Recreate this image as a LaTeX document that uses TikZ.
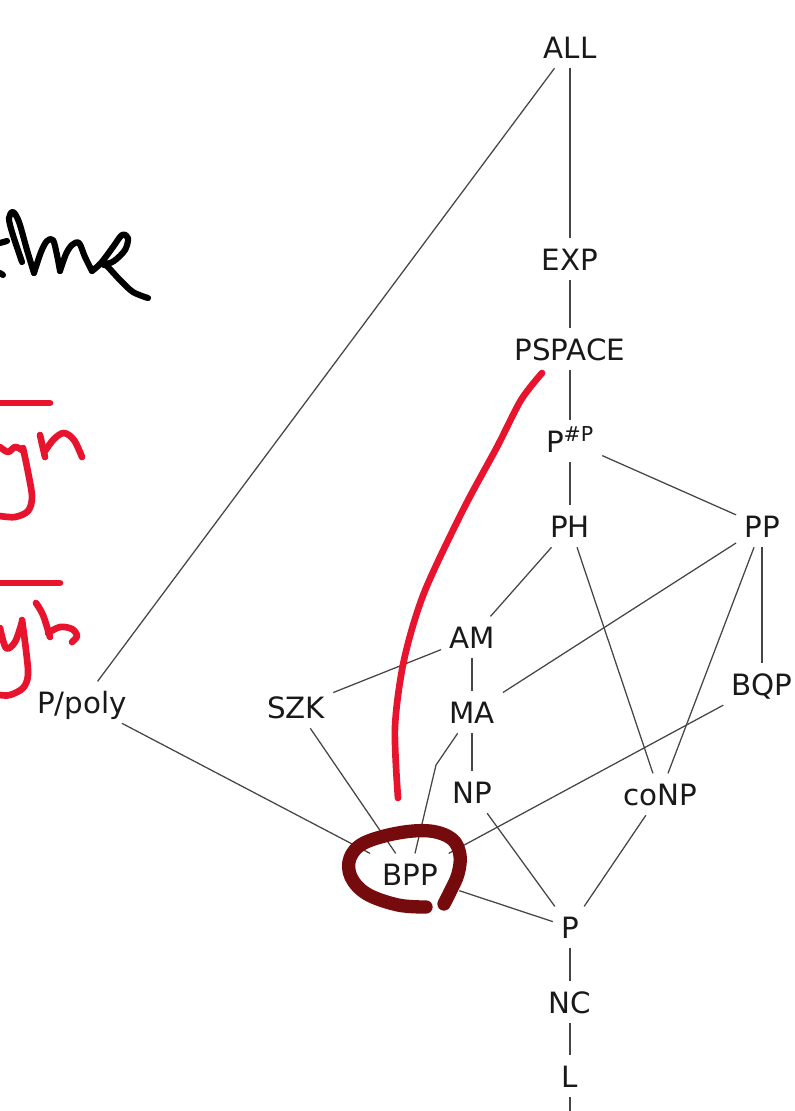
\documentclass[tikz,border=0pt]{standalone}
\usepackage{fontspec}
\setmainfont{DejaVu Sans}
\definecolor{edgegray}{RGB}{70,70,70}
\definecolor{labelink}{RGB}{25,25,25}
\definecolor{penred}{RGB}{232,20,45}
\definecolor{ringred}{RGB}{118,11,13}
\tikzset{
  cls/.style={font=\fontsize{22}{26}\selectfont, text=labelink, text height=16pt, text depth=0pt,
              inner xsep=6pt, inner ysep=7.5pt, anchor=base},
  link/.style={draw=edgegray, line width=0.95pt},
  blackpen/.style={draw=black, line width=4.6pt, line cap=round, line join=round},
  redpen/.style={draw=penred, line width=5pt, line cap=round, line join=round},
  ringpen/.style={draw=ringred, line width=10pt, line cap=round, line join=round}
}
\begin{document}
\begin{tikzpicture}[x=0.75pt, y=-0.75pt]
\useasboundingbox (0,0) rectangle (795,1111);

% class nodes
\node[cls] (ALL) at (570,58) {ALL};
\node[cls] (EXP) at (570,270) {EXP};
\node[cls] (PSPACE) at (570,360) {PSPACE};
\node[cls] (PsP) at (570,452) {P\textsuperscript{\#P}};
\node[cls] (PH) at (570,537) {PH};
\node[cls] (PP) at (762,537) {PP};
\node[cls] (AM) at (472,648) {AM};
\node[cls] (MA) at (472,723) {MA};
\node[cls] (NP) at (472,803) {NP};
\node[cls] (SZK) at (296,718) {SZK};
\node[cls] (Ppoly) at (82,713) {P/poly};
\node[cls] (BQP) at (762,695) {BQP};
\node[cls] (coNP) at (660,805) {coNP};
\node[cls, inner xsep=16pt] (BPP) at (410,885) {BPP};
\node[cls] (P) at (570,938) {P};
\node[cls] (NC) at (570,1013) {NC};
\node[cls] (L) at (570,1087) {L};
\coordinate (mabend) at (436,765);
\coordinate (Lend) at (570,1116);

% inclusions
\draw[link] (ALL) -- (EXP);
\draw[link] (ALL) -- (Ppoly);
\draw[link] (EXP) -- (PSPACE);
\draw[link] (PSPACE) -- (PsP);
\draw[link] (PsP) -- (PH);
\draw[link] (PsP) -- (PP);
\draw[link] (PH) -- (AM);
\draw[link] (PH) -- (coNP);
\draw[link] (PP) -- (MA);
\draw[link] (PP) -- (coNP);
\draw[link] (PP) -- (BQP);
\draw[link] (AM) -- (SZK);
\draw[link] (AM) -- (MA);
\draw[link] (MA) -- (NP);
\draw[link] (MA) -- (mabend) -- (BPP);
\draw[link] (BQP) -- (BPP);
\draw[link] (SZK) -- (BPP);
\draw[link] (Ppoly) -- (BPP);
\draw[link] (NP) -- (P);
\draw[link] (coNP) -- (P);
\draw[link] (BPP) -- (P);
\draw[link] (P) -- (NC);
\draw[link] (NC) -- (L);
\draw[link] (L) -- (Lend);

% handwriting, black (cut off at the left edge)
\draw[blackpen] (0,243) -- (7,241);
\draw[blackpen] (0,273) -- (3,275);
\draw[blackpen] plot[smooth, tension=0.55] coordinates {(22,262) (12,232) (9,218) (13,212) (19,222) (27,250) (34,273)};
\draw[blackpen] plot[smooth, tension=0.55] coordinates {(34,273) (41,252) (47,241) (53,240) (57,255) (60,271)};
\draw[blackpen] plot[smooth, tension=0.55] coordinates {(60,271) (66,254) (72,245) (79,243) (85,257) (92,271)};
\draw[blackpen] plot[smooth, tension=0.55] coordinates {(92,271) (101,263) (113,247) (122,235) (128,238) (125,250) (114,261) (104,265) (107,266) (120,280) (133,292) (148,298)};

% handwriting, red
\draw[redpen] (0,403) -- (50,403);
\draw[redpen] plot[smooth, tension=0.55] coordinates {(0,447) (8,452) (15,447) (22,450)};
\draw[redpen] plot[smooth, tension=0.55] coordinates {(23,448) (28,472) (32,497) (28,511) (15,517) (0,516)};
\draw[redpen] (40,435) -- (45,457);
\draw[redpen] plot[smooth, tension=0.55] coordinates {(45,451) (54,439) (64,433) (74,440) (82,457)};
\draw[redpen] (0,583) -- (60,583);
\draw[redpen] plot[smooth, tension=0.55] coordinates {(0,628) (6,648) (15,642) (22,622)};
\draw[redpen] plot[smooth, tension=0.55] coordinates {(22,620) (26,650) (28,675) (23,688) (10,695) (0,695)};
\draw[redpen] plot[smooth, tension=0.55] coordinates {(36,603) (43,615) (50,637)};
\draw[redpen] plot[smooth, tension=0.55] coordinates {(48,633) (60,627) (72,629) (77,636) (72,642)};
\draw[redpen] plot[smooth, tension=0.5] coordinates {(542,373) (521,400) (497,447) (463,510) (424,593) (404,660) (395,727) (398,798)};

% ring round BPP
\draw[ringpen] plot[smooth, tension=0.6] coordinates {(444,904) (451,890) (458,874) (460,855) (452,839) (430,831) (398,833) (364,843) (350,858) (351,877) (367,894) (398,905) (426,907)};
\end{tikzpicture}
\end{document}
